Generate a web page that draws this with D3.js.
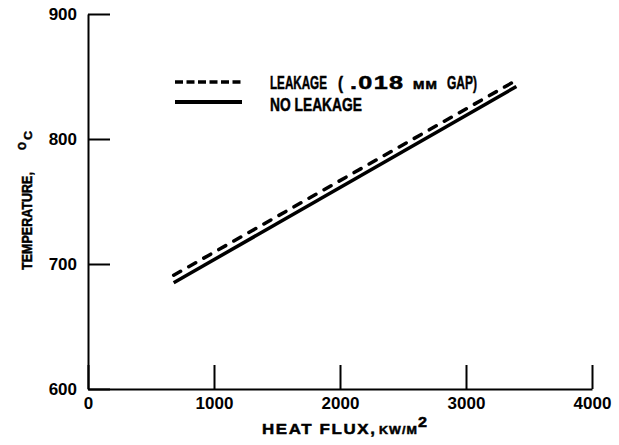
<!DOCTYPE html>
<html>
<head>
<meta charset="utf-8">
<script src="https://cdn.jsdelivr.net/npm/d3@7"></script>
<style>
  html, body { margin: 0; padding: 0; background: #fff; }
  svg { display: block; }
  .tick text { font-family: "Liberation Sans", Arial, sans-serif; font-weight: bold; font-size: 17px; fill: #000; }
  .label { font-family: "Liberation Sans", Arial, sans-serif; font-weight: bold; fill: #000; stroke: #000; stroke-width: 0.5; }
</style>
</head>
<body>
<div id="chart-container"></div>
<script>
// chart data
const xTicks = [0, 1000, 2000, 3000, 4000];
const yTicks = [600, 700, 800, 900];
const heatFlux = [680, 3400];          // kW/m2, ends of both lines
const leakage = [691, 847];            // deg C, .018 mm gap
const noLeakage = [685, 842];          // deg C

const width = 619;
const height = 445;
const margin = ({top: 14, right: 27, bottom: 56, left: 88});

const svg = d3.select("#chart-container")
    .append("svg")
    .attr("width", width)
    .attr("height", height);

const x = d3.scaleLinear()
    .domain([0, 4000])
    .range([margin.left, width - margin.right]);

const y = d3.scaleLinear()
    .domain([600, 900])
    .range([height - margin.bottom, margin.top]);

// axes, ticks drawn inward
const xAxis = g => g
    .attr("transform", `translate(0,${y(600)})`)
    .call(d3.axisBottom(x).tickValues(xTicks).tickFormat(d3.format("d"))
        .tickSizeInner(-24).tickSizeOuter(0).tickPadding(8))
    .call(g => g.selectAll("path, line").attr("stroke", "#000").attr("stroke-width", 2));

const yAxis = g => g
    .attr("transform", `translate(${x(0)},0)`)
    .call(d3.axisLeft(y).tickValues(yTicks).tickFormat(d3.format("d"))
        .tickSizeInner(-22).tickSizeOuter(0).tickPadding(11))
    .call(g => g.selectAll("path, line").attr("stroke", "#000").attr("stroke-width", 2));

svg.append("g").call(xAxis);
svg.append("g").call(yAxis);

// data lines
const line = d3.line()
    .x(d => x(d[0]))
    .y(d => y(d[1]));

svg.append("path")
    .datum(d3.zip(heatFlux, leakage))
    .attr("d", line)
    .attr("fill", "none")
    .attr("stroke", "#000")
    .attr("stroke-width", 3.5)
    .attr("stroke-linecap", "round")
    .attr("stroke-dasharray", "8,9.3");

svg.append("path")
    .datum(d3.zip(heatFlux, noLeakage))
    .attr("d", line)
    .attr("fill", "none")
    .attr("stroke", "#000")
    .attr("stroke-width", 3.5);

// small helper: a text squeezed or stretched to span x0..x1
function addText(parent, str, x0, x1, yBase, size, spacing) {
    const t = parent.append("text")
        .attr("class", "label")
        .attr("font-size", size)
        .attr("letter-spacing", spacing || 0)
        .text(str);
    const w = t.node().getComputedTextLength() - (spacing || 0);
    t.attr("transform", `translate(${x0},${yBase}) scale(${(x1 - x0) / w},1)`);
    return t;
}

// legend
const legend = svg.append("g");
legend.append("line")
    .attr("x1", 175).attr("x2", 242).attr("y1", 82).attr("y2", 82)
    .attr("stroke", "#000").attr("stroke-width", 3.5)
    .attr("stroke-dasharray", "8,3.5");
legend.append("line")
    .attr("x1", 175).attr("x2", 242).attr("y1", 102).attr("y2", 102)
    .attr("stroke", "#000").attr("stroke-width", 4);

addText(legend, "LEAKAGE", 270, 327, 89, 19);
addText(legend, "(", 338, 343, 89, 19);
addText(legend, ".018", 350, 403, 89, 19, 1);
addText(legend, "MM", 413, 437, 89, 11, 1);
addText(legend, "GAP)", 447, 477, 89, 19);
addText(legend, "NO LEAKAGE", 270, 362, 110.5, 19);

// axis titles
addText(svg, "HEAT FLUX,", 262, 375, 434, 15.5, 1.5);
addText(svg, "KW/M", 379, 417, 434, 11.5, 1);
addText(svg, "2", 418, 427, 427, 14);

// y title, rotated: text runs from bottom to top
const yt = svg.append("g").attr("transform", "translate(32,0) rotate(-90)");
addText(yt, "TEMPERATURE,", -270, -172, 0, 14.5);
addText(yt, "O", -150, -142, -6, 11);
addText(yt, "C", -140, -131, 0, 11);
</script>
</body>
</html>
